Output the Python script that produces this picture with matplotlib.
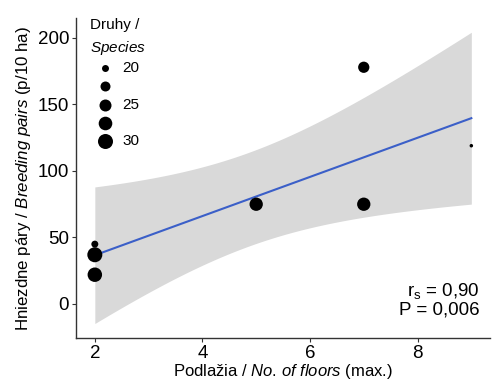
import matplotlib as mpl
mpl.use('Agg')
import matplotlib.pyplot as plt
import numpy as np

plt.rcParams['font.family'] = ['Liberation Sans', 'DejaVu Sans']
plt.rcParams['mathtext.fontset'] = 'custom'
plt.rcParams['mathtext.rm'] = 'Liberation Sans'
plt.rcParams['mathtext.it'] = 'Liberation Sans:italic'

# data: floors, breeding pairs (p/10 ha), number of species
floors = np.array([2, 2, 2, 5, 7, 7, 9])
pairs = np.array([45, 37, 22, 75, 178, 75, 119])
species = np.array([20, 30, 29, 27, 24, 27, 19])
legend_species = [20, 22.5, 25, 27.5, 30]
legend_labels = ['20', '', '25', '', '30']


def marker_area(s):
    # diameter in px, sqrt scaling like ggplot's area palette
    d = 3.5 + 11.5 * np.sqrt((np.asarray(s, float) - 19) / 11)
    return (d * 0.72) ** 2


# linear fit + 95% confidence band
n = len(floors)
slope, intercept = np.polyfit(floors, pairs, 1)
resid = pairs - (slope * floors + intercept)
s_err = np.sqrt(np.sum(resid ** 2) / (n - 2))
xs = np.linspace(floors.min(), floors.max(), 100)
ys = slope * xs + intercept
se = s_err * np.sqrt(1 / n + (xs - floors.mean()) ** 2 / np.sum((floors - floors.mean()) ** 2))
t_val = 2.5706  # t(0.975, df=5)

fig = plt.figure(figsize=(4.99, 3.8), dpi=100)
ax = fig.add_axes([0.1523, 0.1105, 0.83, 0.842])

ax.fill_between(xs, ys - t_val * se, ys + t_val * se, color='#d9d9d9', lw=0, zorder=1)
ax.plot(xs, ys, color='#3b5fc8', lw=1.5, zorder=2)
ax.scatter(floors, pairs, s=marker_area(species), color='black', lw=0, zorder=3)

ax.set_xlim(1.65, 9.35)
ax.set_ylim(-25.6, 215)
ax.set_xticks([2, 4, 6, 8])
ax.set_yticks([0, 50, 100, 150, 200])
for side in ['top', 'right']:
    ax.spines[side].set_visible(False)
for side in ['left', 'bottom']:
    ax.spines[side].set_color('#333333')
    ax.spines[side].set_linewidth(1.0)
ax.tick_params(labelsize=13.5, length=3, color='#333333', labelcolor='black', pad=2)

ax.set_xlabel('Podlažia / $\\mathit{No}$. $\\mathit{of\\ floors}$ (max.)', fontsize=12, labelpad=0)
ax.set_ylabel('Hniezdne páry / $\\mathit{Breeding\\ pairs}$ (p/10 ha)', fontsize=12.2, labelpad=3)

ax.text(0.975, 0.06, 'r$_\\mathrm{s}$ = 0,90\nP = 0,006', transform=ax.transAxes,
        ha='right', va='bottom', fontsize=13.5, linespacing=1.05)

handles = [ax.scatter([], [], s=marker_area(v), color='black', lw=0) for v in legend_species]
leg = ax.legend(handles, legend_labels, title='Druhy /\n$\\mathit{Species}$',
                loc='upper left', bbox_to_anchor=(0.008, 1.035), frameon=False,
                fontsize=11, title_fontproperties={'size': 11}, alignment='left',
                handletextpad=0.1, labelspacing=0.28, borderaxespad=0.3)
leg.get_title().set_linespacing(1.55)

fig.savefig('out.png', dpi=100)
